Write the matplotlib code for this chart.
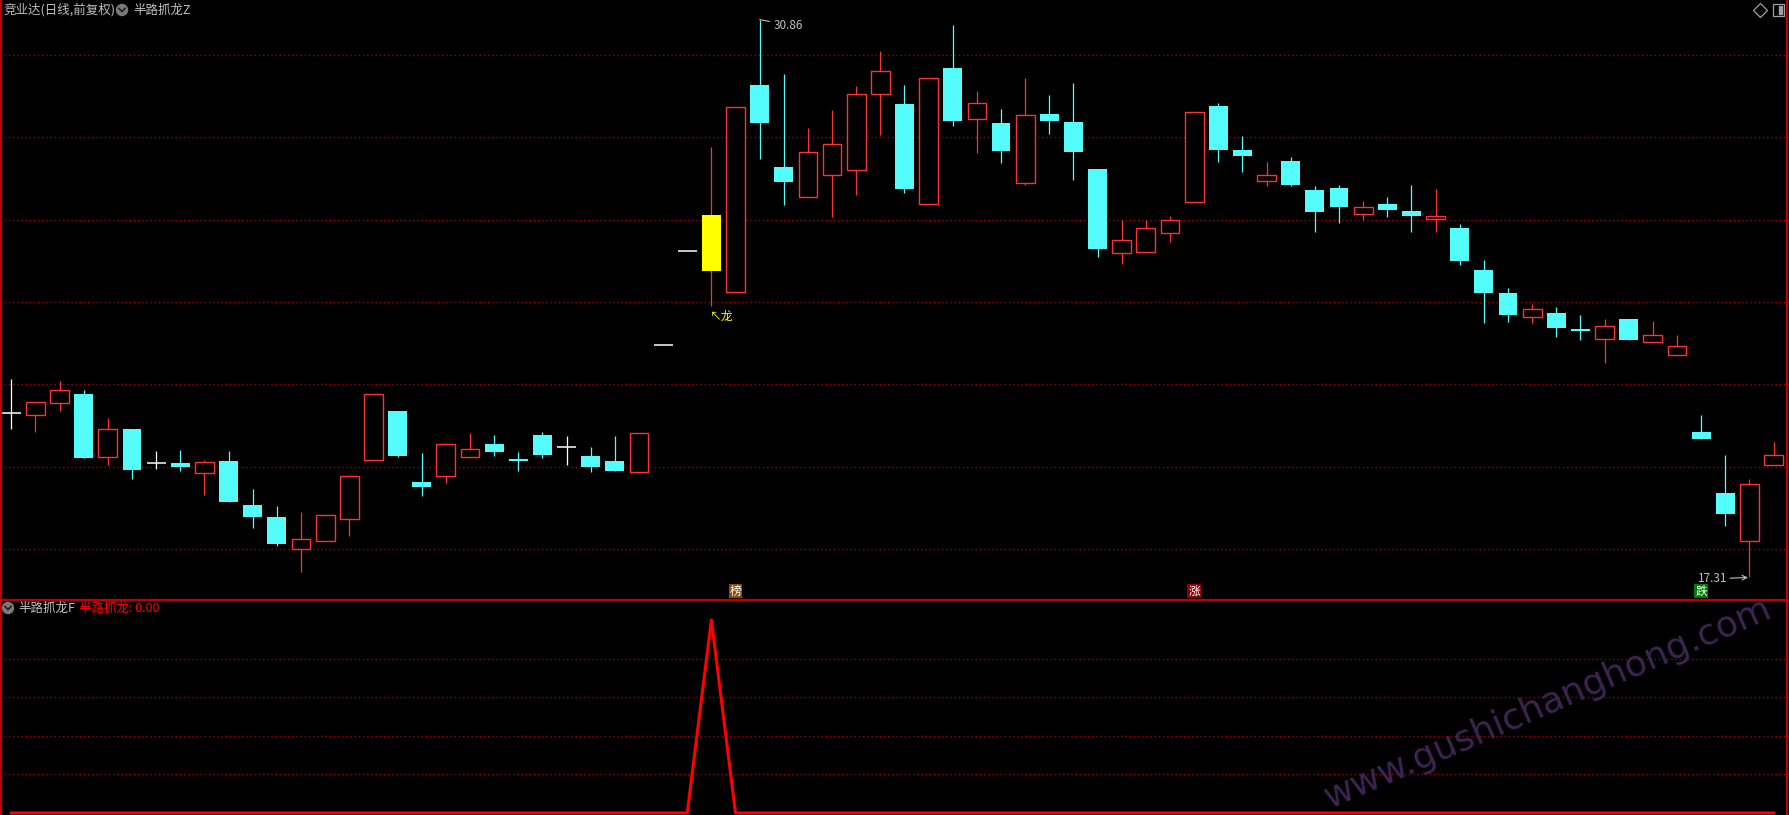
# coding=utf-8
import numpy as np
import matplotlib
matplotlib.use('Agg')
import matplotlib.pyplot as plt
import matplotlib.transforms as mtransforms
from matplotlib.patches import Circle, Rectangle

plt.rcParams['font.family'] = ['Noto Sans CJK SC', 'DejaVu Sans']

# 日K线数据(前复权)
opens = [21.30, 21.25, 21.54, 21.77, 20.24, 20.92, 20.08, 20.09, 19.85, 20.14,
         19.07, 18.78, 17.99, 18.19, 18.74, 20.16, 21.35, 19.63, 19.78, 20.24,
         20.55, 20.19, 20.77, 20.47, 20.26, 20.14, 19.88, 22.96, 25.24, 24.76,
         24.25, 29.27, 27.28, 26.54, 27.08, 27.20, 29.05, 28.81, 26.37, 29.68,
         28.45, 28.35, 26.90, 28.57, 28.37, 27.23, 25.19, 25.21, 25.68, 26.43,
         28.76, 27.70, 26.93, 27.43, 26.71, 26.77, 26.13, 26.38, 26.21, 26.02,
         25.80, 24.78, 24.22, 23.64, 23.74, 23.35, 23.10, 23.58, 23.03, 22.71,
         20.84, 19.36, 18.20, 20.03]
highs = [22.13, 21.56, 22.07, 21.86, 21.18, 20.92, 20.38, 20.41, 20.16, 20.38,
         19.46, 19.05, 18.90, 18.82, 19.77, 21.76, 21.35, 20.33, 20.54, 20.82,
         20.77, 20.36, 20.84, 20.75, 20.48, 20.75, 20.82, 22.96, 25.24, 27.77,
         28.73, 30.86, 29.54, 28.23, 28.66, 29.25, 30.10, 29.27, 29.43, 30.73,
         29.13, 28.68, 29.45, 29.04, 29.32, 27.23, 25.99, 25.99, 26.09, 28.62,
         28.84, 28.03, 27.40, 27.52, 26.82, 26.84, 26.45, 26.55, 26.84, 26.74,
         25.90, 25.02, 24.35, 23.96, 23.88, 23.68, 23.58, 23.58, 23.55, 23.19,
         21.26, 20.28, 19.70, 20.61]
lows = [20.92, 20.85, 21.36, 20.22, 20.04, 19.71, 19.95, 19.90, 19.32, 19.15,
        18.52, 18.08, 17.45, 18.19, 18.32, 20.16, 20.24, 19.30, 19.60, 20.24,
        20.27, 19.90, 20.22, 20.05, 19.88, 19.90, 19.85, 22.96, 25.24, 23.91,
        24.25, 27.48, 26.36, 26.54, 26.07, 26.61, 28.06, 26.66, 26.37, 28.28,
        27.62, 27.38, 26.84, 28.09, 26.96, 25.09, 24.92, 25.21, 25.46, 26.43,
        27.40, 27.16, 26.82, 26.82, 25.71, 25.93, 25.99, 26.07, 25.71, 25.71,
        24.91, 23.49, 23.52, 23.49, 23.16, 23.08, 22.52, 23.08, 23.03, 22.71,
        20.67, 18.56, 17.31, 20.03]
closes = [21.30, 21.56, 21.86, 20.22, 20.91, 19.93, 20.08, 20.00, 20.11, 19.15,
          18.79, 18.13, 18.24, 18.82, 19.77, 21.76, 20.27, 19.51, 20.54, 20.42,
          20.36, 20.15, 20.28, 20.47, 20.00, 19.90, 20.82, 22.96, 25.24, 26.11,
          28.73, 28.36, 26.92, 27.64, 27.83, 29.05, 29.60, 26.75, 29.43, 28.40,
          28.83, 27.68, 28.54, 28.40, 27.64, 25.29, 25.51, 25.80, 25.99, 28.62,
          27.70, 27.55, 27.09, 26.84, 26.19, 26.32, 26.32, 26.24, 26.10, 26.10,
          25.00, 24.22, 23.68, 23.83, 23.38, 23.30, 23.42, 23.08, 23.19, 22.94,
          20.67, 18.86, 19.58, 20.28]

# 半路抓龙F 指标
signal = [0, 0, 0, 0, 0, 0, 0, 0, 0, 0,
          0, 0, 0, 0, 0, 0, 0, 0, 0, 0,
          0, 0, 0, 0, 0, 0, 0, 0, 0, 100,
          0, 0, 0, 0, 0, 0, 0, 0, 0, 0,
          0, 0, 0, 0, 0, 0, 0, 0, 0, 0,
          0, 0, 0, 0, 0, 0, 0, 0, 0, 0,
          0, 0, 0, 0, 0, 0, 0, 0, 0, 0,
          0, 0, 0, 0]

# 榜/涨/跌 标记
tag_index = [30, 49, 70]
tag_text = ['榜', '涨', '跌']
tag_color = ['#8C4A08', '#8B0000', '#007A00']

price_grid = [18, 20, 22, 24, 26, 28, 30]
signal_grid = [20, 40, 60, 80]

RED = '#FF3232'
CYAN = '#54FCFC'
GRID = '#A00000'
GRAY = '#C0C0C0'

W, H = 1789, 815
fig = plt.figure(figsize=(W / 100, H / 100), dpi=100, facecolor='black')
ax = fig.add_axes([0, 215 / H, 1, 600 / H], facecolor='black')
ax2 = fig.add_axes([0, 0, 1, 215 / H], facecolor='black')
for a in (ax, ax2):
    a.set_xlim(-0.468, 73.64)
    a.set_xticks([])
    a.set_yticks([])
    for s in a.spines.values():
        s.set_visible(False)
ax.set_ylim(16.762, 31.336)
ax2.set_ylim(-1.04, 110.36)

# 网格
for g in price_grid:
    ax.axhline(g, color=GRID, lw=1, ls=(0, (1, 2)), zorder=0)
for g in signal_grid:
    ax2.axhline(g, color=GRID, lw=1, ls=(0, (1, 2)), zorder=0)

x = np.arange(len(opens))
o = np.array(opens)
h = np.array(highs)
l = np.array(lows)
c = np.array(closes)
sig = np.array(signal) > 0
bw = 0.78
top = np.maximum(o, c)
bot = np.minimum(o, c)

# 阳线 空心红
m = (c > o) & ~sig
ax.vlines(x[m], top[m], h[m], color=RED, lw=0.9, zorder=2)
ax.vlines(x[m], l[m], bot[m], color=RED, lw=0.9, zorder=2)
ax.bar(x[m], (c - o)[m], bottom=o[m], width=bw, facecolor='black',
       edgecolor=RED, lw=1.0, zorder=3)

# 阴线 实心青
m = (c < o) & ~sig
ax.vlines(x[m], l[m], h[m], color=CYAN, lw=0.9, zorder=2)
ax.bar(x[m], (c - o)[m], bottom=o[m], width=bw, color=CYAN, lw=0, zorder=3)

# 信号K线 黄色
m = sig
ax.vlines(x[m], l[m], h[m], color=RED, lw=0.9, zorder=2)
ax.bar(x[m], (c - o)[m], bottom=o[m], width=bw, color='#FFFF00', lw=0, zorder=3)

# 十字星/一字板
m = (c == o) & ~sig
ax.vlines(x[m & (h > l)], l[m & (h > l)], h[m & (h > l)], color='white', lw=0.9, zorder=2)
ax.hlines(o[m], x[m] - bw / 2, x[m] + bw / 2, color='white', lw=1.1, zorder=3)

# 最高/最低价标注
ih = int(np.argmax(h))
ax.annotate('%.2f' % h[ih], xy=(ih, h[ih]), xytext=(10, -4), textcoords='offset points',
            ha='left', va='center', color=GRAY, fontsize=8.5,
            arrowprops=dict(arrowstyle='-', color=GRAY, lw=0.8, shrinkA=1, shrinkB=0))
il = int(np.argmin(l))
ax.annotate('%.2f' % l[il], xy=(il, l[il]), xytext=(-16, -1), textcoords='offset points',
            ha='right', va='center', color=GRAY, fontsize=8.5,
            arrowprops=dict(arrowstyle='->', color=GRAY, lw=0.8, shrinkA=0, shrinkB=1))

# 龙 标记
for i in x[sig]:
    ax.annotate('↖龙', xy=(i, l[i]), xytext=(-1, -3), textcoords='offset points',
                ha='left', va='top', color='#FFFF00', fontsize=8.5)

blend = mtransforms.blended_transform_factory(ax.transData, ax.transAxes)
for i, t, col in zip(tag_index, tag_text, tag_color):
    ax.text(i, 0.015, t, transform=blend, ha='center', va='center', color='white',
            fontsize=8.5, bbox=dict(boxstyle='square,pad=0.08', fc=col, ec='none'))

# 指标线
ax2.plot(x, signal, color='#FF0000', lw=2.2, zorder=3)

# 覆盖层: 标题, 边框, 水印
ov = fig.add_axes([0, 0, 1, 1])
ov.set_xlim(0, W)
ov.set_ylim(H, 0)
ov.axis('off')

ov.plot([1, 1], [0, H], color='#C00000', lw=1.6)
ov.plot([W - 2, W - 2], [0, H], color='#C00000', lw=1.6)
ov.plot([0, W], [600, 600], color='#C00000', lw=1.6)

ov.text(3, 10, '竞业达(日线,前复权)', color=GRAY, fontsize=9, va='center', ha='left')
ov.add_patch(Circle((122, 10), 5.5, color='#7A7A7A'))
ov.plot([119, 122, 125], [8.5, 11.5, 8.5], color='#202020', lw=1.2)
ov.text(133, 10, '半路抓龙Z', color=GRAY, fontsize=9, va='center', ha='left')

ov.add_patch(Circle((8, 608), 5.5, color='#7A7A7A'))
ov.plot([5, 8, 11], [606.5, 609.5, 606.5], color='#202020', lw=1.2)
ov.text(18, 608, '半路抓龙F', color=GRAY, fontsize=9, va='center', ha='left')
ov.text(79, 608, '半路抓龙: %.2f' % signal[-1], color='#FF0000', fontsize=9, va='center', ha='left')

ov.plot(1760, 10, marker='D', ms=7, mfc='none', mec='#A0A0A0', mew=0.9)
ov.add_patch(Rectangle((1773, 4), 11, 12, fill=False, ec='#A0A0A0', lw=0.9))
ov.add_patch(Rectangle((1779, 6), 3, 8, color='#A0A0A0'))

ov.text(1548, 703, 'www.gushichanghong.com', rotation=23.4, rotation_mode='anchor',
        color='#3E2452', fontsize=26, ha='center', va='center', family='DejaVu Sans')

fig.savefig('out.png', dpi=100, facecolor='black')
